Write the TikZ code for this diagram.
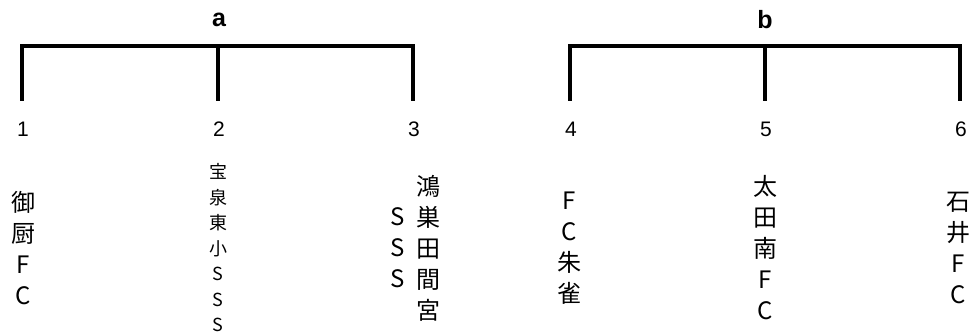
\documentclass[tikz,border=0pt]{standalone}
\usepackage{fontspec}
\setmainfont{Liberation Sans}
\newfontfamily\cjk{Noto Sans CJK JP}
\tikzset {
    bracket line/.style = {line width = 4.5pt, line join = miter},
    group label/.style = {inner sep = 0pt, font = \fontsize{25}{28}\selectfont\bfseries},
    seed/.style = {inner sep = 0pt, font = \fontsize{21}{24}\selectfont},
    team/.style = {inner sep = 0pt, align = center, font = \cjk\fontsize{24}{31}\selectfont},
    small team/.style = {inner sep = 0pt, align = center, font = \cjk\fontsize{18}{25.5}\selectfont}
}
\begin{document}
\begin{tikzpicture}[x = 1pt, y = -1pt]
            \useasboundingbox (0, 0) rectangle (971, 336);
            % group a
            \node (ga) [group label] at (219, 20) {a};
            \coordinate (ta) at (218, 46);
            \coordinate (fa1) at (22, 101);
            \coordinate (fa2) at (218, 101);
            \coordinate (fa3) at (413, 101);
            \draw [bracket line] (fa1) |- (ta) -| (fa3);
            \draw [bracket line] (ta) -- (fa2);
            % group b
            \node (gb) [group label] at (765, 20) {b};
            \coordinate (tb) at (765, 46);
            \coordinate (fb1) at (570, 101);
            \coordinate (fb2) at (765, 101);
            \coordinate (fb3) at (960, 101);
            \draw [bracket line] (fb1) |- (tb) -| (fb3);
            \draw [bracket line] (tb) -- (fb2);
            % seeds
            \node (s1) [seed] at (23, 129) {1};
            \node (s2) [seed] at (219, 129) {2};
            \node (s3) [seed] at (414, 129) {3};
            \node (s4) [seed] at (571, 129) {4};
            \node (s5) [seed] at (766, 129) {5};
            \node (s6) [seed] at (961, 129) {6};
            % teams
            \node (t1) [team] at (23, 248) {御\\厨\\F\\C};
            \node (t2) [small team] at (218, 248) {宝\\泉\\東\\小\\S\\S\\S};
            \node (t3) [team] at (428, 248) {鴻\\巣\\田\\間\\宮};
            \node (t3s) [team] at (398, 248) {S\\S\\S};
            \node (t4) [team] at (569, 248) {F\\C\\朱\\雀};
            \node (t5) [team] at (765, 248) {太\\田\\南\\F\\C};
            \node (t6) [team] at (958, 248) {石\\井\\F\\C};
        \end{tikzpicture}
\end{document}
